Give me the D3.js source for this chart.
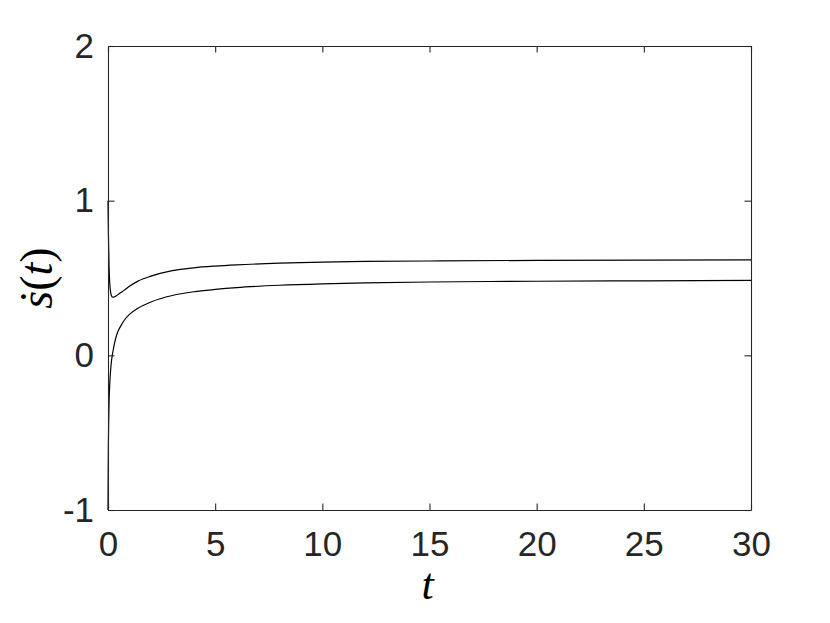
<!DOCTYPE html>
<html>
<head>
<meta charset="utf-8">
<script src="https://cdn.jsdelivr.net/npm/d3@7"></script>
<style>
  body { margin: 0; background: #fff; }
  svg { display: block; }
</style>
</head>
<body>
<svg id="chart" width="830" height="623"></svg>
<script>
// time samples
const tValues = [0, 0.01, 0.02, 0.03, 0.05, 0.08, 0.12, 0.16, 0.2, 0.25, 0.3, 0.4, 0.5, 0.64, 0.75, 1, 1.4, 2, 3, 4, 5, 6, 8, 10, 12, 15, 20, 25, 30];
// upper curve: drops from ~1 to a dip, then levels off near 0.62
const upperValues = [1.0, 0.88, 0.78, 0.70, 0.57, 0.47, 0.41, 0.385, 0.377, 0.376, 0.378, 0.386, 0.396, 0.41, 0.42, 0.447, 0.48, 0.512, 0.548, 0.566, 0.577, 0.585, 0.596, 0.603, 0.607, 0.61, 0.614, 0.616, 0.617];
// lower curve: rises from -1 and levels off near 0.485
const lowerValues = [-1.0, -0.72, -0.55, -0.44, -0.3, -0.19, -0.1, -0.04, 0.0, 0.04, 0.075, 0.13, 0.165, 0.2, 0.225, 0.265, 0.305, 0.345, 0.387, 0.411, 0.426, 0.438, 0.453, 0.462, 0.468, 0.474, 0.479, 0.482, 0.485];

const xTicks = [0, 5, 10, 15, 20, 25, 30];
const yTicks = [-1, 0, 1, 2];

const svg = d3.select('#chart');
const plotLeft = 108, plotRight = 751, plotTop = 46, plotBottom = 510;
const axisColor = '#262626';
const tickLen = 6.5;

let x = d3.scaleLinear().domain([0, 30]).range([plotLeft, plotRight]);
let y = d3.scaleLinear().domain([-1, 2]).range([plotBottom, plotTop]);

// curves
const line = d3.line()
    .x(function (d) { return x(d[0]); })
    .y(function (d) { return y(d[1]); })
    .curve(d3.curveMonotoneX);

[upperValues, lowerValues].forEach(function (vals) {
    svg.append('path')
        .datum(tValues.map(function (t, i) { return [t, vals[i]]; }))
        .attr('fill', 'none')
        .attr('stroke', '#000')
        .attr('stroke-width', 1.2)
        .attr('d', line);
});

// axes (ticks inward on all four sides)
function styleAxis(g) {
    g.select('.domain').attr('stroke', axisColor).attr('stroke-width', 1.1);
    g.selectAll('.tick line').attr('stroke', axisColor).attr('stroke-width', 1.1);
    g.selectAll('.tick text')
        .attr('fill', axisColor)
        .style('font-family', '"Liberation Sans", Arial, sans-serif')
        .style('font-size', '35px');
}

svg.append('g')
    .attr('transform', 'translate(0,' + plotBottom + ')')
    .call(d3.axisBottom(x).tickValues(xTicks).tickSize(-tickLen).tickPadding(21).tickSizeOuter(0))
    .call(styleAxis);

svg.append('g')
    .attr('transform', 'translate(0,' + plotTop + ')')
    .call(d3.axisTop(x).tickValues(xTicks).tickSize(-tickLen).tickFormat('').tickSizeOuter(0))
    .call(styleAxis);

svg.append('g')
    .attr('transform', 'translate(' + plotLeft + ',0)')
    .call(d3.axisLeft(y).tickValues(yTicks).tickSize(-tickLen).tickPadding(14).tickSizeOuter(0)
        .tickFormat(function (d) { return d < 0 ? '-' + Math.abs(d) : d; }))
    .call(styleAxis);

svg.append('g')
    .attr('transform', 'translate(' + plotRight + ',0)')
    .call(d3.axisRight(y).tickValues(yTicks).tickSize(-tickLen).tickFormat('').tickSizeOuter(0))
    .call(styleAxis);

// axis labels
svg.append('text')
    .attr('x', (plotLeft + plotRight) / 2 - 2)
    .attr('y', 599)
    .attr('text-anchor', 'middle')
    .style('font-family', '"Liberation Serif", "Times New Roman", serif')
    .style('font-style', 'italic')
    .style('font-size', '44px')
    .attr('fill', '#000')
    .text('t');

const ylab = svg.append('text')
    .attr('transform', 'translate(52,' + ((plotTop + plotBottom) / 2) + ') rotate(-90)')
    .attr('text-anchor', 'middle')
    .style('font-family', '"Liberation Serif", "Times New Roman", serif')
    .style('font-size', '46px')
    .attr('fill', '#000');
ylab.append('tspan').style('font-style', 'italic').text('\u1E61');
ylab.append('tspan').text('(');
ylab.append('tspan').style('font-style', 'italic').text('t');
ylab.append('tspan').text(')');
</script>
</body>
</html>
